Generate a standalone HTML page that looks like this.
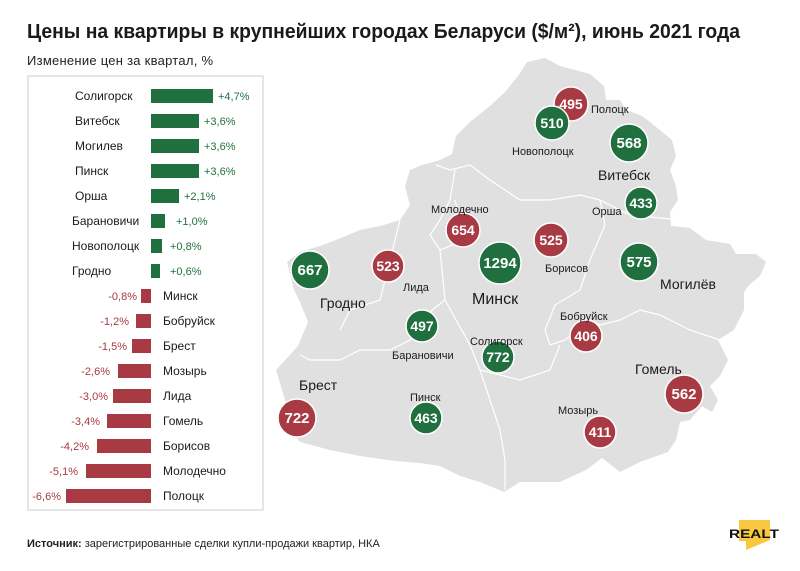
<!DOCTYPE html>
<html><head><meta charset="utf-8"><style>
html,body{margin:0;padding:0;background:#fff;}
svg{display:block;font-family:"Liberation Sans",sans-serif;}
</style></head><body>
<svg width="800" height="571" viewBox="0 0 800 571" xmlns="http://www.w3.org/2000/svg">
<rect width="800" height="571" fill="#fff"/>
<text x="27" y="38" font-size="20" font-weight="bold" fill="#1a1a1a" textLength="713" lengthAdjust="spacingAndGlyphs">Цены на квартиры в крупнейших городах Беларуси ($/м²), июнь 2021 года</text>
<text x="27" y="65" font-size="13" fill="#222" textLength="186">Изменение цен за квартал, %</text>
<rect x="28" y="76" width="235" height="434" fill="#fff" stroke="#ccc"/>

<!-- map -->
<path d="M527,62 L545,58 L560,66 L590,74 L604,86 L606,100 L620,100 L626,110 L642,116 L650,122 L672,140 L676,156 L670,170 L676,186 L678,200 L670,212 L671,226 L690,228 L706,240 L730,244 L736,254 L756,254 L766,262 L760,276 L750,284 L744,292 L744,310 L734,330 L718,340 L728,360 L720,376 L710,386 L718,400 L712,412 L702,406 L690,420 L680,422 L676,440 L668,452 L640,462 L620,472 L602,458 L586,470 L560,482 L520,482 L504,492 L480,482 L460,476 L440,466 L420,463 L395,461 L360,456 L330,450 L300,442 L290,430 L285,400 L276,370 L298,346 L308,322 L300,302 L294,290 L287,262 L300,252 L320,246 L336,240 L346,236 L360,230 L380,226 L400,220 L410,205 L405,186 L410,170 L422,165 L440,160 L452,154 L456,136 L470,122 L490,106 L505,92 L518,76 Z" fill="#e0e0e0"/>
<g fill="none" stroke="#fff" stroke-width="1.2">
<path d="M436,165 L450,170 L470,165 L490,180 L520,200 L550,200 L580,195 L600,200 L630,215 L680,220"/>
<path d="M455,170 L450,200 L440,220 L430,235 L440,250 L445,300 L432,310 L420,330 L410,340 L390,350 L360,350 L340,360 L310,360 L300,355"/>
<path d="M455,200 L465,240 L440,250"/>
<path d="M600,200 L605,225 L590,260 L580,290 L555,305 L545,330 L550,345 L565,340 L578,330 L590,320 L600,325 L620,320 L640,310 L660,315 L690,330 L720,340"/>
<path d="M445,300 L470,345 L480,370 L490,400 L500,430 L505,460 L505,490"/>
<path d="M480,370 L520,380 L550,370 L560,345"/>
<path d="M400,220 L390,260 L380,300 L350,310 L340,330"/>
</g>

<!-- circles -->
<g font-weight="bold" fill="#fff" text-anchor="middle" font-size="14">
<circle cx="571" cy="104" r="17" fill="#a83a44" stroke="#fff" stroke-width="1.5"/><text x="571" y="109">495</text>
<circle cx="552" cy="123" r="17" fill="#20703f" stroke="#fff" stroke-width="1.5"/><text x="552" y="128">510</text>
<circle cx="629" cy="143" r="19" fill="#20703f" stroke="#fff" stroke-width="1.5"/><text x="629" y="148" font-size="15">568</text>
<circle cx="641" cy="203" r="16" fill="#20703f" stroke="#fff" stroke-width="1.5"/><text x="641" y="208">433</text>
<circle cx="463" cy="230" r="17" fill="#a83a44" stroke="#fff" stroke-width="1.5"/><text x="463" y="235">654</text>
<circle cx="551" cy="240" r="17" fill="#a83a44" stroke="#fff" stroke-width="1.5"/><text x="551" y="245">525</text>
<circle cx="500" cy="263" r="21" fill="#20703f" stroke="#fff" stroke-width="1.5"/><text x="500" y="268" font-size="15">1294</text>
<circle cx="639" cy="262" r="19" fill="#20703f" stroke="#fff" stroke-width="1.5"/><text x="639" y="267" font-size="15">575</text>
<circle cx="310" cy="270" r="19" fill="#20703f" stroke="#fff" stroke-width="1.5"/><text x="310" y="275" font-size="15">667</text>
<circle cx="388" cy="266" r="16" fill="#a83a44" stroke="#fff" stroke-width="1.5"/><text x="388" y="271">523</text>
<circle cx="422" cy="326" r="16" fill="#20703f" stroke="#fff" stroke-width="1.5"/><text x="422" y="331">497</text>
<circle cx="498" cy="357" r="16" fill="#20703f" stroke="#fff" stroke-width="1.5"/><text x="498" y="362">772</text>
<circle cx="586" cy="336" r="16" fill="#a83a44" stroke="#fff" stroke-width="1.5"/><text x="586" y="341">406</text>
<circle cx="684" cy="394" r="19" fill="#a83a44" stroke="#fff" stroke-width="1.5"/><text x="684" y="399" font-size="15">562</text>
<circle cx="297" cy="418" r="19" fill="#a83a44" stroke="#fff" stroke-width="1.5"/><text x="297" y="423" font-size="15">722</text>
<circle cx="426" cy="418" r="16" fill="#20703f" stroke="#fff" stroke-width="1.5"/><text x="426" y="423">463</text>
<circle cx="600" cy="432" r="16" fill="#a83a44" stroke="#fff" stroke-width="1.5"/><text x="600" y="437">411</text>
</g>
<g fill="#1a1a1a" font-size="11">
<text x="591" y="113">Полоцк</text>
<text x="512" y="155">Новополоцк</text>
<text x="598" y="180" font-size="14">Витебск</text>
<text x="592" y="215">Орша</text>
<text x="431" y="213">Молодечно</text>
<text x="545" y="272">Борисов</text>
<text x="472" y="304" font-size="16">Минск</text>
<text x="660" y="289" font-size="14">Могилёв</text>
<text x="320" y="308" font-size="14">Гродно</text>
<text x="403" y="291">Лида</text>
<text x="392" y="359">Барановичи</text>
<text x="470" y="345">Солигорск</text>
<text x="560" y="320">Бобруйск</text>
<text x="635" y="374" font-size="14">Гомель</text>
<text x="299" y="390" font-size="14">Брест</text>
<text x="410" y="401">Пинск</text>
<text x="558" y="414">Мозырь</text>
</g>

<!-- bars -->
<g font-size="12">
<g fill="#20703f">
<rect x="151" y="89" width="62" height="14"/><rect x="151" y="114" width="48" height="14"/><rect x="151" y="139" width="48" height="14"/><rect x="151" y="164" width="48" height="14"/><rect x="151" y="189" width="28" height="14"/><rect x="151" y="214" width="14" height="14"/><rect x="151" y="239" width="11" height="14"/><rect x="151" y="264" width="9" height="14"/>
</g>
<g fill="#20703f" font-size="11">
<text x="218" y="100">+4,7%</text><text x="204" y="125">+3,6%</text><text x="204" y="150">+3,6%</text><text x="204" y="175">+3,6%</text><text x="184" y="200">+2,1%</text><text x="176" y="225">+1,0%</text><text x="170" y="250">+0,8%</text><text x="170" y="275">+0,6%</text>
</g>
<g fill="#1a1a1a">
<text x="75" y="100">Солигорск</text><text x="75" y="125">Витебск</text><text x="75" y="150">Могилев</text><text x="75" y="175">Пинск</text><text x="75" y="200">Орша</text><text x="72" y="225">Барановичи</text><text x="72" y="250">Новополоцк</text><text x="72" y="275">Гродно</text>
</g>
<g fill="#a83a44">
<rect x="141" y="289" width="10" height="14"/><rect x="136" y="314" width="15" height="14"/><rect x="132" y="339" width="19" height="14"/><rect x="118" y="364" width="33" height="14"/><rect x="113" y="389" width="38" height="14"/><rect x="107" y="414" width="44" height="14"/><rect x="97" y="439" width="54" height="14"/><rect x="86" y="464" width="65" height="14"/><rect x="66" y="489" width="85" height="14"/>
</g>
<g fill="#a83a44" font-size="11" text-anchor="end">
<text x="137" y="300">-0,8%</text><text x="129" y="325">-1,2%</text><text x="127" y="350">-1,5%</text><text x="110" y="375">-2,6%</text><text x="108" y="400">-3,0%</text><text x="100" y="425">-3,4%</text><text x="89" y="450">-4,2%</text><text x="78" y="475">-5,1%</text><text x="61" y="500">-6,6%</text>
</g>
<g fill="#1a1a1a">
<text x="163" y="300">Минск</text><text x="163" y="325">Бобруйск</text><text x="163" y="350">Брест</text><text x="163" y="375">Мозырь</text><text x="163" y="400">Лида</text><text x="163" y="425">Гомель</text><text x="163" y="450">Борисов</text><text x="163" y="475">Молодечно</text><text x="163" y="500">Полоцк</text>
</g>
</g>

<text x="27" y="547" font-size="11" fill="#222"><tspan font-weight="bold">Источник:</tspan> зарегистрированные сделки купли-продажи квартир, НКА</text>
<path d="M739,520 L770,520 L770,540 L746,550 L746,541 L739,541 Z" fill="#f7c840"/>
<text x="729" y="538" font-size="12" font-weight="bold" fill="#111" textLength="50" lengthAdjust="spacingAndGlyphs">REALT</text>
</svg>
</body></html>
